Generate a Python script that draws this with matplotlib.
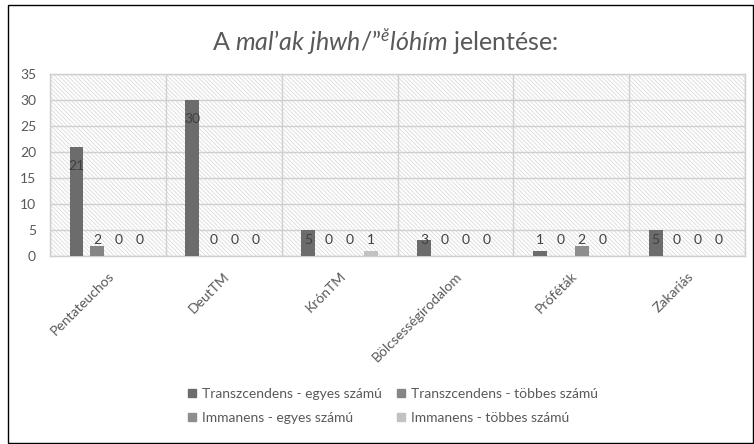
import matplotlib
matplotlib.use("Agg")
import matplotlib.pyplot as plt
from matplotlib.patches import Rectangle
from matplotlib.lines import Line2D
import numpy as np

categories = ["Pentateuchos", "DeutTM", "KrónTM", "Bölcsességirodalom", "Próféták", "Zakariás"]
series_names = [
    "Transzcendens - egyes számú",
    "Transzcendens - többes számú",
    "Immanens - egyes számú",
    "Immanens - többes számú",
]
transz_egyes = [21, 30, 5, 3, 1, 5]
transz_tobbes = [2, 0, 0, 0, 0, 0]
imman_egyes = [0, 0, 0, 0, 2, 0]
imman_tobbes = [0, 0, 1, 0, 0, 0]
series_values = [transz_egyes, transz_tobbes, imman_egyes, imman_tobbes]
colors = ["#6c6c6c", "#858585", "#8e8e8e", "#c2c2c2"]
y_ticks = [0, 5, 10, 15, 20, 25, 30, 35]

plt.rcParams["font.family"] = ["Lato", "DejaVu Sans"]
plt.rcParams["mathtext.fontset"] = "custom"
plt.rcParams["mathtext.rm"] = "Lato"
plt.rcParams["mathtext.it"] = "Lato:italic"
plt.rcParams["hatch.color"] = "#dcdcdc"
plt.rcParams["hatch.linewidth"] = 0.6

fig = plt.figure(figsize=(7.54, 4.44), dpi=100)
ax = fig.add_axes([50 / 754, 1 - 256 / 444, 695 / 754, 182 / 444])

# hatched plot-area background
ax.add_patch(Rectangle((0, 0), 1, 1, transform=ax.transAxes, facecolor="white",
                       hatch="\\\\\\\\\\\\\\\\", edgecolor="#dcdcdc", linewidth=0, zorder=0))

x = np.arange(len(categories))
slot = 0.181
width = 0.12
for i, (vals, col) in enumerate(zip(series_values, colors)):
    xs = x + (i - 1.5) * slot
    ax.bar(xs, vals, width, color=col, zorder=3)
    for xi, v in zip(xs, vals):
        ax.text(xi, max(v - 3.7, 3.1), str(v), ha="center", va="center",
                fontsize=10, color="#404040", zorder=4)

ax.set_xlim(-0.5, len(categories) - 0.5)
ax.set_ylim(0, 35)
ax.set_yticks(y_ticks)
ax.set_xticks(x)
ax.set_xticklabels(categories, rotation=45, ha="right", rotation_mode="anchor")
ax.set_xticks(np.arange(len(categories) + 1) - 0.5, minor=True)
ax.tick_params(axis="both", which="both", length=0, labelsize=10, labelcolor="#595959")
ax.tick_params(axis="y", pad=10)
ax.tick_params(axis="x", pad=10)
ax.grid(axis="y", which="major", color="#cfcfcf", linewidth=1, zorder=1)
ax.grid(axis="x", which="minor", color="#cfcfcf", linewidth=1, zorder=1)
for s in ax.spines.values():
    s.set_color("#cfcfcf")
    s.set_linewidth(1)

fig.text(385 / 754, 1 - 42 / 444,
         "A $\\mathit{mal’ak\\ jhwh/”}^{\\mathit{ĕ}}\\mathit{lóhím}$ jelentése:",
         ha="center", va="center", fontsize=18, color="#595959")

# legend filled row by row: (0, 1) on top, (2, 3) below
order = [0, 2, 1, 3]
handles = [Line2D([], [], marker="s", linestyle="none", markersize=6, color=colors[i]) for i in order]
labels = [series_names[i] for i in order]
fig.legend(handles, labels, loc="center", bbox_to_anchor=(392 / 754, 1 - 406 / 444),
           ncol=2, frameon=False, fontsize=10, handlelength=0.8, handletextpad=0.3,
           columnspacing=1.0, labelspacing=0.9, labelcolor="#595959")

fig.patches.append(Rectangle((8 / 754, 1 / 444), 745 / 754, 438 / 444,
                             transform=fig.transFigure, fill=False,
                             edgecolor="black", linewidth=1))

fig.savefig("out.png", dpi=100)
